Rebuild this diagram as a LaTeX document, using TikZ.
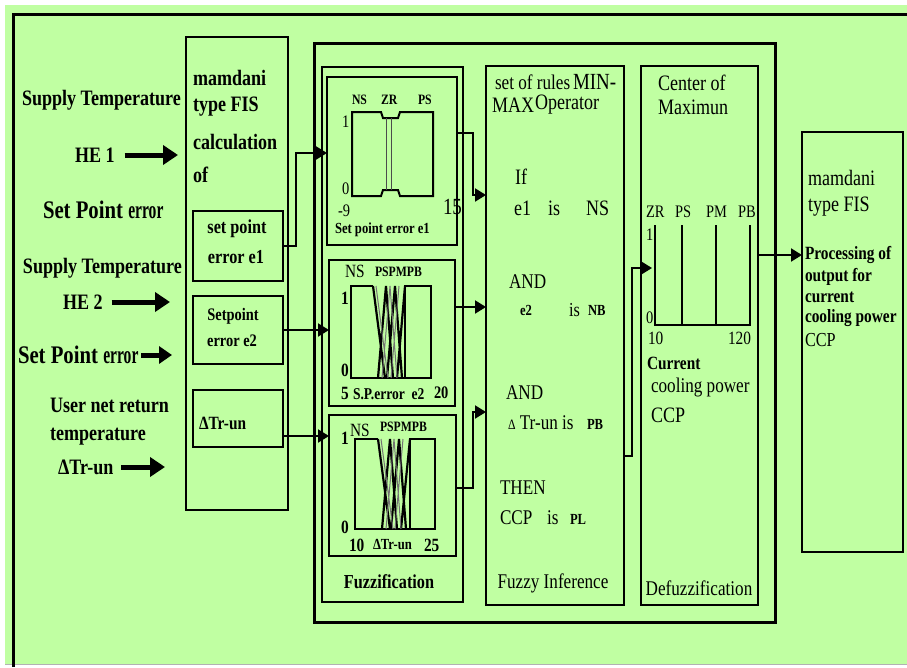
\documentclass[tikz,border=0pt]{standalone}
\usepackage{graphicx}
\usepackage{fontspec}
\setmainfont{Liberation Serif}[FakeStretch=0.82]
\usetikzlibrary{arrows.meta,positioning}
\definecolor{panel}{RGB}{192,255,162}
\newcommand{\fz}[1]{\fontsize{\fpeval{#1*1.1}}{\fpeval{#1*1.1}}\selectfont}
\newcommand{\errw}{\scalebox{0.75}[1]{\bfseries\fz{23}error}}

\begin{document}
\begin{tikzpicture}[x=1pt, y=-1pt,
  every node/.style={inner sep=0pt, outer sep=0pt},
  blk/.style={draw, line width=2pt, anchor=north west},
  rm/.style={anchor=west, font=\fz{#1}},
  bf/.style={anchor=west, font=\bfseries\fz{#1}},
  feed/.style={line width=5pt, -{Triangle[length=15pt,width=19pt]}},
  wire/.style={line width=2pt, -{Triangle[length=11pt,width=13pt]}},
  curve/.style={line width=2pt}
]
\useasboundingbox (0,0) rectangle (907,667);
\fill[white] (0,0) rectangle (907,667);
\fill[panel] (5,5) rectangle (907,664);
\draw[gray!60, line width=1pt] (5,664.5) -- (907,664.5);
\draw[line width=3pt] (13,667) -- (13,14) -- (907,14);

% blocks
\node[blk, minimum width=102pt, minimum height=473pt] (calc) at (186,37) {};
\node[blk, minimum width=90pt, minimum height=70pt] (e1) at (193,211) {};
\node[blk, minimum width=90pt, minimum height=68pt] (e2) at (193,296) {};
\node[blk, minimum width=90pt, minimum height=57pt] (tr) at (193,390) {};
\node[blk, line width=3pt, minimum width=461pt, minimum height=579pt] (main) at (314,43) {};
\node[blk, minimum width=141pt, minimum height=535pt] (fuz) at (322,67) {};
\node[blk, minimum width=130pt, minimum height=168pt] (m1) at (327,77) {};
\node[blk, minimum width=126pt, minimum height=146pt] (m2) at (329,260) {};
\node[blk, minimum width=127pt, minimum height=141pt] (m3) at (329,415) {};
\node[blk, line width=2.5pt, minimum width=138pt, minimum height=539pt] (inf) at (486,66) {};
\node[blk, minimum width=117pt, minimum height=539pt] (dfz) at (641,66) {};
\node[blk, line width=1.5pt, minimum width=101pt, minimum height=420pt] (outb) at (802,132) {};

% inputs
\node[bf=20] (supA) at (22,100) {Supply Temperature};
\node[bf=20] (heA) at (75,155) {HE 1};
\node[bf=23] (spA) at (43,210) {Set Point \errw};
\node[bf=20] (supB) at (23,268) {Supply Temperature};
\node[bf=20] (heB) at (63,302) {HE 2};
\node[bf=23] (spB) at (18,355) {Set Point \errw};
\node[bf=20] (usr) at (50,405) {User net return};
\node[bf=20] (tmp) at (50,437) {temperature};
\node[bf=20] (dtr) at (58,467) {ΔTr-un};
\draw[feed] ([xshift=10pt]heA.east) -- ([xshift=-8pt]heA.east -| calc.west);
\draw[feed] ([xshift=9pt]heB.east) -- ([xshift=-16pt]heB.east -| calc.west);
\draw[feed, -{Triangle[length=13pt,width=17pt]}] ([xshift=3pt]spB.east) -- ([xshift=-14pt]spB.east -| calc.west);
\draw[feed] ([xshift=8pt]dtr.east) -- ([xshift=-21pt]dtr.east -| calc.west);

% calculation block
\node[bf=20] (c1) at (193,78) {mamdani};
\node[bf=20] (c2) at (193,107) {type FIS};
\node[bf=20] (c3) at (193,142) {calculation};
\node[bf=20] (c4) at (193,175) {of};
\node[bf=18, anchor=center] (e1a) at (237,229) {set point};
\node[bf=18, anchor=center] (e1b) at (236,257) {error e1};
\node[bf=16, anchor=center] (e2a) at (233,316) {Setpoint};
\node[bf=16, anchor=center] (e2b) at (232,341) {error e2};
\node[bf=17] (tra) at (199,423) {ΔTr-un};

% membership functions e1
\node[bf=13] (n1) at (352,100) {NS};
\node[bf=13] (z1) at (381,100) {ZR};
\node[bf=13] (p1) at (418,100) {PS};
\node[rm=16] (o1) at (342,122) {1};
\node[rm=16] (q1) at (342,189) {0};
\node[rm=16] (a1) at (338,211) {-9};
\node[rm=21] (b1) at (443,207) {15};
\node[bf=14] (t1) at (335,230) {Set point error e1};
\draw[curve] (352,196) -- (352,112) -- (381,112) -- (383,118) -- (398,118) -- (400,112) -- (433,112) -- (433,196)
  -- (400,196) -- (398,190) -- (383,190) -- (381,196) -- cycle;
\draw[line width=0.8pt, black!70] (386.5,118) -- (386.5,190) (391,118) -- (391,190);

% membership functions e2
\node[rm=17] (n2) at (345,271) {NS};
\node[bf=13] (p2) at (375,272) {PSPMPB};
\node[bf=17] (o2) at (341,298) {1};
\node[bf=17] (q2) at (341,370) {0};
\node[bf=17] (a2) at (341,393) {5};
\node[bf=15] (t2) at (353,394) {S.P.error~~e2};
\node[bf=16] (b2) at (434,393) {20};
\draw[curve] (373,286) -- (351,286) -- (351,378) -- (431,378) -- (431,286) -- (405,286) -- (405,378);
\draw[line width=2.2pt] (373,286) -- (385,378) (378,378) -- (386,286) -- (393,378)
  (387,378) -- (395,286) -- (402,378) (397,378) -- (405,286);
\draw[line width=1pt, black!55] (376,286) -- (388,378) (382,378) -- (390,286) -- (397,378)
  (391,378) -- (399,286);

% membership functions dTr
\node[rm=17] (n3) at (350,430) {NS};
\node[bf=13] (p3) at (380,427) {PSPMPB};
\node[bf=17] (o3) at (341,438) {1};
\node[bf=17] (q3) at (341,527) {0};
\node[bf=17] (a3) at (349,545) {10};
\node[bf=14] (t3) at (373,545) {ΔTr-un};
\node[bf=17] (b3) at (424,545) {25};
\draw[curve] (378,439) -- (355,439) -- (355,529) -- (435,529) -- (435,439) -- (410,439) -- (410,529);
\draw[line width=2.2pt] (378,439) -- (390,529) (382,529) -- (390,439) -- (397,529)
  (391,529) -- (399,439) -- (406,529) (401,529) -- (410,439);
\draw[line width=1pt, black!55] (381,439) -- (393,529) (386,529) -- (394,439) -- (401,529)
  (395,529) -- (403,439);
\node[bf=18, anchor=center] (fzl) at (389,582) {Fuzzification};

% rules
\node[rm=19] (r1) at (495,82) {set of rules};
\node[rm=21] (r2) at (573,82) {MIN-};
\node[rm=20] (r3) at (492,105) {MAX};
\node[rm=20] (r4) at (535,105) {Operator};
\node[rm=20] (r5) at (515,177) {If};
\node[rm=20] (r6) at (514,208) {e1};
\node[rm=20] (r7) at (548,208) {is};
\node[rm=20] (r8) at (586,208) {NS};
\node[rm=19] (r9) at (509,282) {AND};
\node[bf=14] (r10) at (520,310) {e2};
\node[rm=18] (r11) at (569,310) {is};
\node[bf=14] (r12) at (588,310) {NB};
\node[rm=19] (r13) at (506,393) {AND};
\node[rm=19] (r14) at (508,423) {{\fz{13}Δ} Tr-un is};
\node[bf=14] (r15) at (587,424) {PB};
\node[rm=19] (r16) at (500,488) {THEN};
\node[rm=19] (r17) at (500,518) {CCP};
\node[rm=19] (r18) at (547,518) {is};
\node[bf=14] (r19) at (570,519) {PL};
\node[rm=19, anchor=center] (infl) at (553,583) {Fuzzy Inference};

% output membership functions
\node[rm=20] (d1) at (658,83) {Center of};
\node[rm=20] (d2) at (658,107) {Maximun};
\node[rm=16] (zr) at (646,212) {ZR};
\node[rm=16] (ps) at (675,212) {PS};
\node[rm=16] (pm) at (706,212) {PM};
\node[rm=16] (pb) at (738,212) {PB};
\node[rm=16] (o4) at (646,235) {1};
\node[rm=16] (q4) at (646,318) {0};
\node[rm=17] (a4) at (648,338) {10};
\node[rm=17] (b4) at (728,338) {120};
\draw[line width=1.2pt] (655,225) -- (655,325) -- (670,325) (682,225) -- (682,325)
  (716,225) -- (716,325) (750,225) -- (750,325);
\draw[line width=2.4pt] (670,325) -- (751,325);
\node[bf=17] (d3) at (647,363) {Current};
\node[rm=19] (d4) at (651,387) {cooling power};
\node[rm=20] (d5) at (651,415) {CCP};
\node[rm=19, anchor=center] (dfl) at (699,588) {Defuzzification};

% output block
\node[rm=20] (u1) at (808,178) {mamdani};
\node[rm=20] (u2) at (808,207) {type FIS};
\node[bf=17] (u3) at (805,255) {Processing of};
\node[bf=17] (u4) at (805,277) {output for};
\node[bf=17] (u5) at (805,297) {current};
\node[bf=17] (u6) at (805,318) {cooling power};
\node[rm=18] (u7) at (805,340) {CCP};

% connections
\coordinate (y1) at (0,153);
\coordinate (y2) at (0,436);
\coordinate (y3) at (0,133);
\coordinate (y4) at (0,195);
\coordinate (y5) at (0,307);
\coordinate (y6) at (0,488);
\coordinate (y7) at (0,412);
\coordinate (y8) at (0,456);
\coordinate (y9) at (0,255);
\coordinate (tip) at (652,268);
\draw[wire] (e1.east) -- ++(13,0) |- (m1.west |- y1);
\draw[wire] (e2.east) -- (e2.east -| m2.west);
\draw[wire] (tr.east |- y2) -- (m3.west |- y2);
\draw[wire] (m1.east |- y3) -- ++(16,0) |- (inf.west |- y4);
\draw[wire] (m2.east |- y5) -- (inf.west |- y5);
\draw[wire] (m3.east |- y6) -- ++(17,0) |- (inf.west |- y7);
\draw[wire] (inf.east |- y8) -- ++(8,0) |- (tip);
\draw[wire] (dfz.east |- y9) -- (outb.west |- y9);
\end{tikzpicture}
\end{document}
